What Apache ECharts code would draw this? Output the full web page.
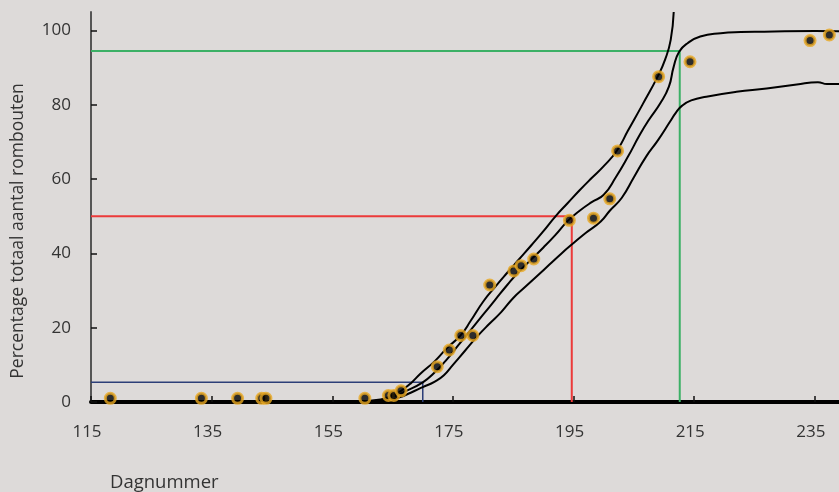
<!DOCTYPE html>
<html>
<head>
<meta charset="utf-8">
<script src="https://cdn.jsdelivr.net/npm/echarts@6/dist/echarts.min.js"></script>
<style>
  html, body { margin: 0; padding: 0; background: #dddad9; }
  #chart { width: 839px; height: 492px; }
</style>
</head>
<body>
<div id="chart"></div>
<script>
// tick labels
const xTicks = [115, 135, 155, 175, 195, 215, 235]
const yTicks = [0, 20, 40, 60, 80, 100]

// observations: day number / cumulative percentage
const days = [118.2, 133.3, 139.3, 143.3, 144, 160.4, 164.3, 165.2, 166.4, 172.4, 174.4, 176.3, 178.3,
  181.1, 185.1, 186.3, 188.4, 194.3, 198.3, 201, 202.3, 209.1, 214.3, 234.2, 237.4]
const percentages = [1, 1, 1, 1, 1, 1, 1.75, 1.75, 3, 9.5, 14, 17.9, 17.9,
  31.5, 35.3, 36.7, 38.5, 48.9, 49.5, 54.7, 67.6, 87.6, 91.6, 97.3, 98.8]

// fitted curve and its bands
const fitCurve = [[158, 0], [163, 0.4], [165, 1.3], [167, 2.8], [170, 5.3], [172, 8], [174, 11.5], [176, 15.5],
  [178, 19.5], [180, 23.5], [182, 27.5], [184, 31.5], [186, 35.2], [188, 38.4], [190, 41.6], [192, 45],
  [194, 48.7], [196, 51.5], [198, 53.8], [200, 55.8], [202, 60.5], [204, 66], [206, 72], [207.5, 76],
  [209.4, 80.5], [210.8, 84.9], [211.6, 90.3], [212.5, 94.3], [213.9, 96.6], [216, 98.4], [219.4, 99.3],
  [222.7, 99.6], [226.6, 99.7], [235, 99.9], [239, 99.8]]
const upperCurve = [[158, 0], [163, 0.7], [165, 1.8], [166.4, 3], [168, 5], [169.6, 7.6], [172, 11], [174, 14.5],
  [176.3, 18], [178, 22], [180, 27], [182, 31], [184, 34.8], [186, 38.5], [188, 42.2], [190, 46], [192, 50],
  [194, 53.5], [196, 57], [198, 60.3], [200, 63.5], [202.2, 67.7], [204, 73], [206.4, 80], [209, 87.8],
  [210.2, 92.3], [211.1, 97.5], [211.6, 105]]
const lowerCurve = [[158, 0], [164, 0.5], [166, 1.2], [168, 2.5], [170, 4], [172, 5.5], [173.5, 7.2], [175, 10],
  [177, 13.8], [179, 17.6], [181, 21], [183, 24.2], [185, 28], [187, 31], [189, 34], [191, 37], [193, 40],
  [195, 42.8], [197, 45.5], [199.5, 48.6], [201, 51.5], [203, 55], [205, 60.5], [207, 66], [209, 70.5],
  [211, 75.5], [212, 78], [213, 79.8], [214.5, 81.2], [217, 82.2], [222, 83.5], [227, 84.4], [232, 85.5],
  [235.5, 86.1], [237, 85.6], [239, 85.6]]

// 5 %, 50 % and 95 % marks: [day, percentage]
const mark5 = [170, 5.3]
const mark50 = [194.7, 50]
const mark95 = [212.6, 94.5]

const font = '"Open Sans", sans-serif'

function markLine(p, color, width) {
  return {
    type: 'line',
    data: [[115, p[1]], [p[0], p[1]], [p[0], 0]],
    symbol: 'none',
    silent: true,
    z: 1,
    lineStyle: { color: color, width: width }
  }
}

function curve(points) {
  return {
    type: 'line',
    data: points,
    symbol: 'none',
    smooth: 0.5,
    z: 3,
    lineStyle: { color: '#000', width: 2 }
  }
}

const chart = echarts.init(document.getElementById('chart'))
chart.setOption({
  backgroundColor: '#dddad9',
  animation: false,
  grid: { left: 91, right: 0, top: 12, bottom: 90 },
  xAxis: {
    type: 'value',
    min: 115,
    max: 239,
    splitLine: { show: false },
    axisLine: { onZero: false, lineStyle: { color: '#000', width: 4 } },
    axisTick: { inside: true, length: 6, customValues: xTicks, lineStyle: { color: '#111', width: 1.5 } },
    axisLabel: {
      customValues: xTicks, margin: 22, padding: [0, 8, 0, 0],
      fontSize: 17, fontFamily: font, color: '#333'
    }
  },
  yAxis: {
    type: 'value',
    min: 0,
    max: 105,
    splitLine: { show: false },
    axisLine: { lineStyle: { color: '#555', width: 2 } },
    axisTick: { inside: true, length: 6, customValues: yTicks, lineStyle: { color: '#111', width: 1.5 } },
    axisLabel: {
      customValues: yTicks, margin: 20, padding: [6, 0, 0, 0],
      fontSize: 17, fontFamily: font, color: '#333'
    }
  },
  graphic: [
    {
      type: 'text',
      x: 18,
      y: 231,
      rotation: Math.PI / 2,
      style: {
        text: 'Percentage totaal aantal rombouten',
        font: '17.5px ' + font,
        fill: '#333',
        align: 'center',
        verticalAlign: 'middle'
      }
    },
    {
      type: 'text',
      x: 110,
      y: 483,
      style: {
        text: 'Dagnummer',
        font: '18.5px ' + font,
        fill: '#333',
        align: 'left',
        verticalAlign: 'middle'
      }
    }
  ],
  series: [
    markLine(mark5, '#2c3e78', 1.5),
    markLine(mark50, '#ec3a3a', 2),
    markLine(mark95, '#3cb066', 2),
    curve(fitCurve),
    curve(upperCurve),
    curve(lowerCurve),
    {
      type: 'scatter',
      data: days.map((d, i) => [d, percentages[i]]),
      symbol: 'circle',
      symbolSize: 10,
      z: 5,
      itemStyle: { color: '#000', borderColor: '#e8a821', borderWidth: 3 }
    }
  ]
})
</script>
</body>
</html>
